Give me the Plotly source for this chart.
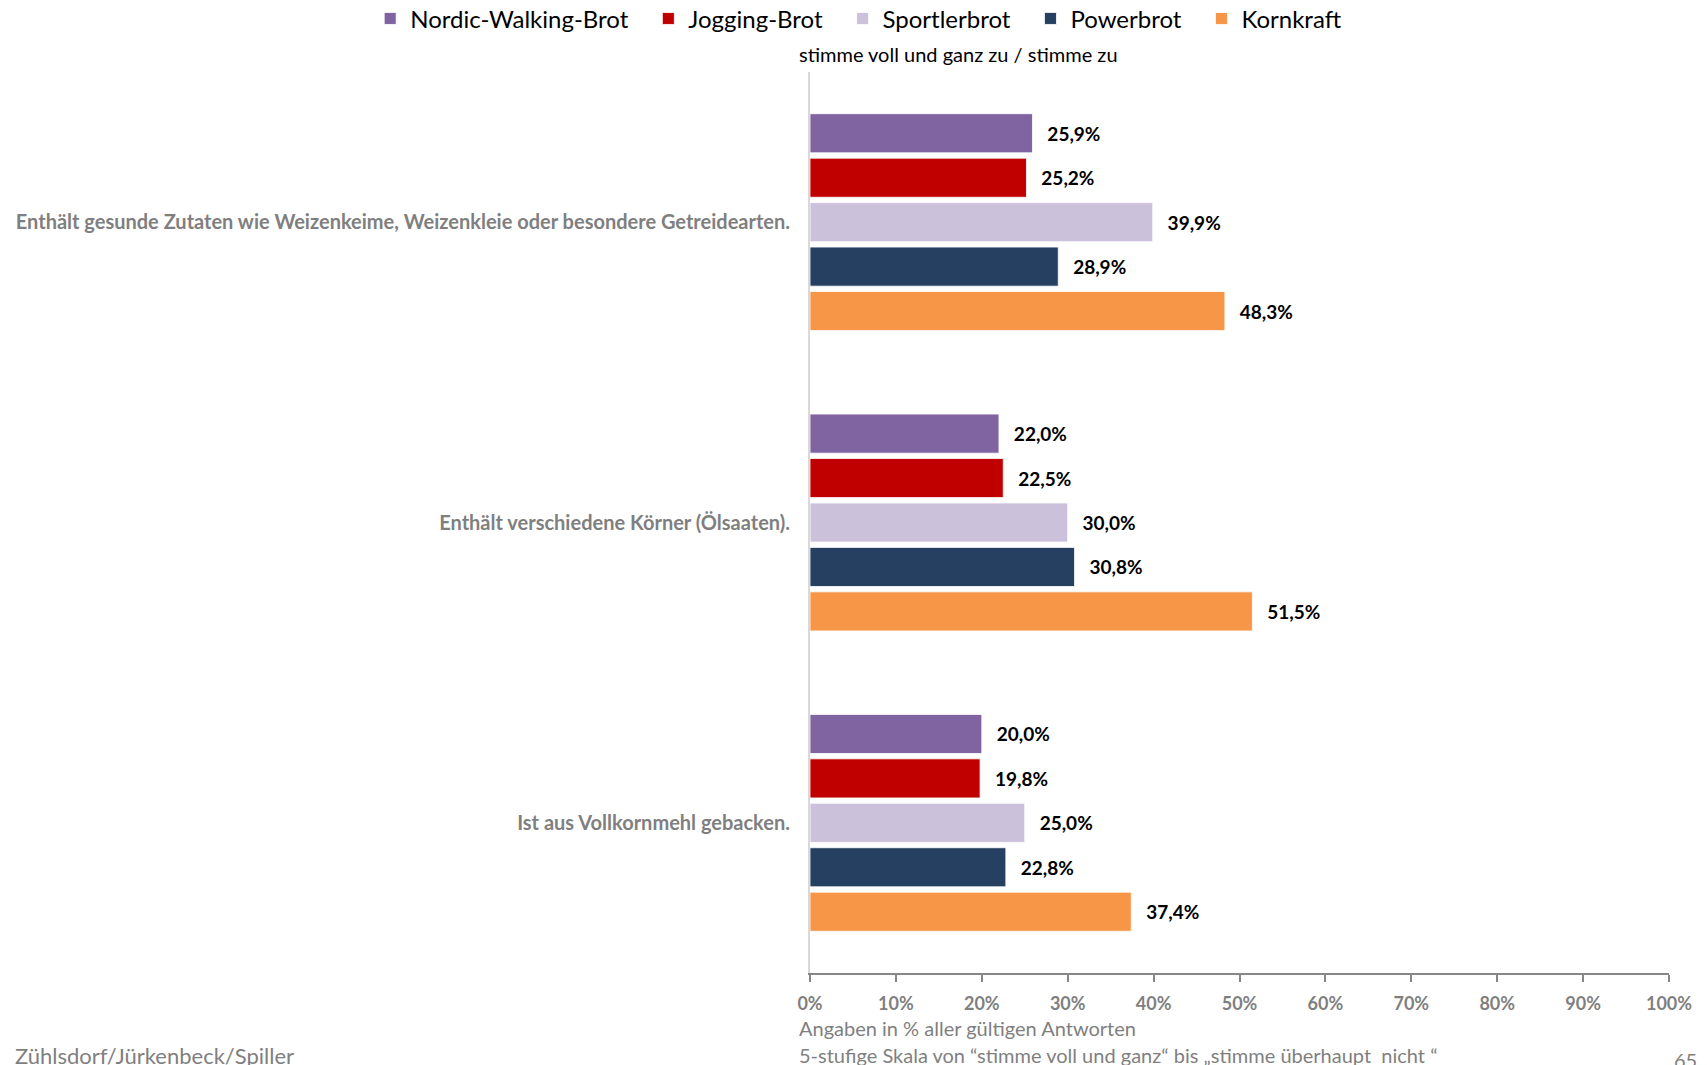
import plotly.graph_objects as go

categories = [
    "Enthält gesunde Zutaten wie Weizenkeime, Weizenkleie oder besondere Getreidearten.",
    "Enthält verschiedene Körner (Ölsaaten).",
    "Ist aus Vollkornmehl gebacken.",
]
series_names = ["Nordic-Walking-Brot", "Jogging-Brot", "Sportlerbrot", "Powerbrot", "Kornkraft"]
nordic = [25.9, 22.0, 20.0]
jogging = [25.2, 22.5, 19.8]
sportler = [39.9, 30.0, 25.0]
power = [28.9, 30.8, 22.8]
kornkraft = [48.3, 51.5, 37.4]
series_values = [nordic, jogging, sportler, power, kornkraft]
colors = ["#8064A2", "#C00000", "#CCC1DA", "#254061", "#F79646"]
tick_vals = [0, 10, 20, 30, 40, 50, 60, 70, 80, 90, 100]
tick_text = [f"{v}%" for v in tick_vals]

FONT = "Lato"

fig = go.Figure()
for i, (name, vals, col) in enumerate(zip(series_names, series_values, colors)):
    label = name + ("\u2002\u2009" if i < len(series_names) - 1 else "")
    fig.add_trace(go.Bar(
        y=categories, x=vals, name=label, orientation="h",
        marker=dict(color=col, line=dict(color="rgba(255,255,255,0.8)", width=1)),
        text=["\u2002\u2009" + f"{v:.1f}".replace(".", ",") + "%" for v in vals],
        textposition="outside", cliponaxis=False,
        textfont=dict(family=FONT, size=19, color="#000000", weight="bold"),
        hovertemplate=name + ": %{x}%<extra></extra>",
    ))

fig.update_layout(
    barmode="group", bargap=0.26, bargroupgap=0.12,
    width=1707, height=1065,
    margin=dict(l=810, r=38, t=72, b=92, autoexpand=False),
    paper_bgcolor="white", plot_bgcolor="white",
    font=dict(family=FONT, color="#7f7f7f"),
    showlegend=True,
    legend=dict(
        orientation="h", x=-0.512, xanchor="left", xref="paper",
        y=1.034, yanchor="bottom", yref="paper",
        font=dict(family=FONT, size=24, color="#000000"),
        itemwidth=30, traceorder="normal", tracegroupgap=0,
    ),
    xaxis=dict(
        range=[0, 100], tickvals=tick_vals, ticktext=tick_text,
        showgrid=False, zeroline=False,
        showline=True, linecolor="#878787", linewidth=2,
        ticks="outside", ticklen=7, tickcolor="#878787", tickwidth=2,
        ticklabelstandoff=6,
        tickfont=dict(family=FONT, size=18, color="#7f7f7f", weight="bold"),
        fixedrange=True,
    ),
    yaxis=dict(
        autorange="reversed", showgrid=False, zeroline=False,
        showline=True, linecolor="#d9d9d9", linewidth=2,
        ticks="", ticklabelstandoff=14,
        tickfont=dict(family=FONT, size=20, color="#7f7f7f", weight="bold"),
    ),
)

annots = [
    dict(text="stimme voll und ganz zu / stimme zu", px=797, py=54, size=20, color="#000000"),
    dict(text="Angaben in % aller gültigen Antworten", px=797, py=1028, size=20, color="#7f7f7f"),
    dict(text="5-stufige Skala von “stimme voll und ganz“ bis „stimme überhaupt  nicht “", px=797, py=1055, size=20, color="#7f7f7f"),
    dict(text="Zühlsdorf/Jürkenbeck/Spiller", px=13, py=1055, size=22, color="#7f7f7f"),
    dict(text="65", px=1672, py=1060, size=20, color="#7f7f7f"),
]
pw = 1707 - 810 - 38
ph = 1065 - 72 - 92
for a in annots:
    fig.add_annotation(
        text=a["text"], showarrow=False,
        xref="paper", yref="paper",
        x=(a["px"] - 810) / pw, y=(1065 - 92 - a["py"]) / ph,
        xanchor="left", yanchor="middle",
        font=dict(family=FONT, size=a["size"], color=a["color"]),
    )

fig.write_html("out.html")
